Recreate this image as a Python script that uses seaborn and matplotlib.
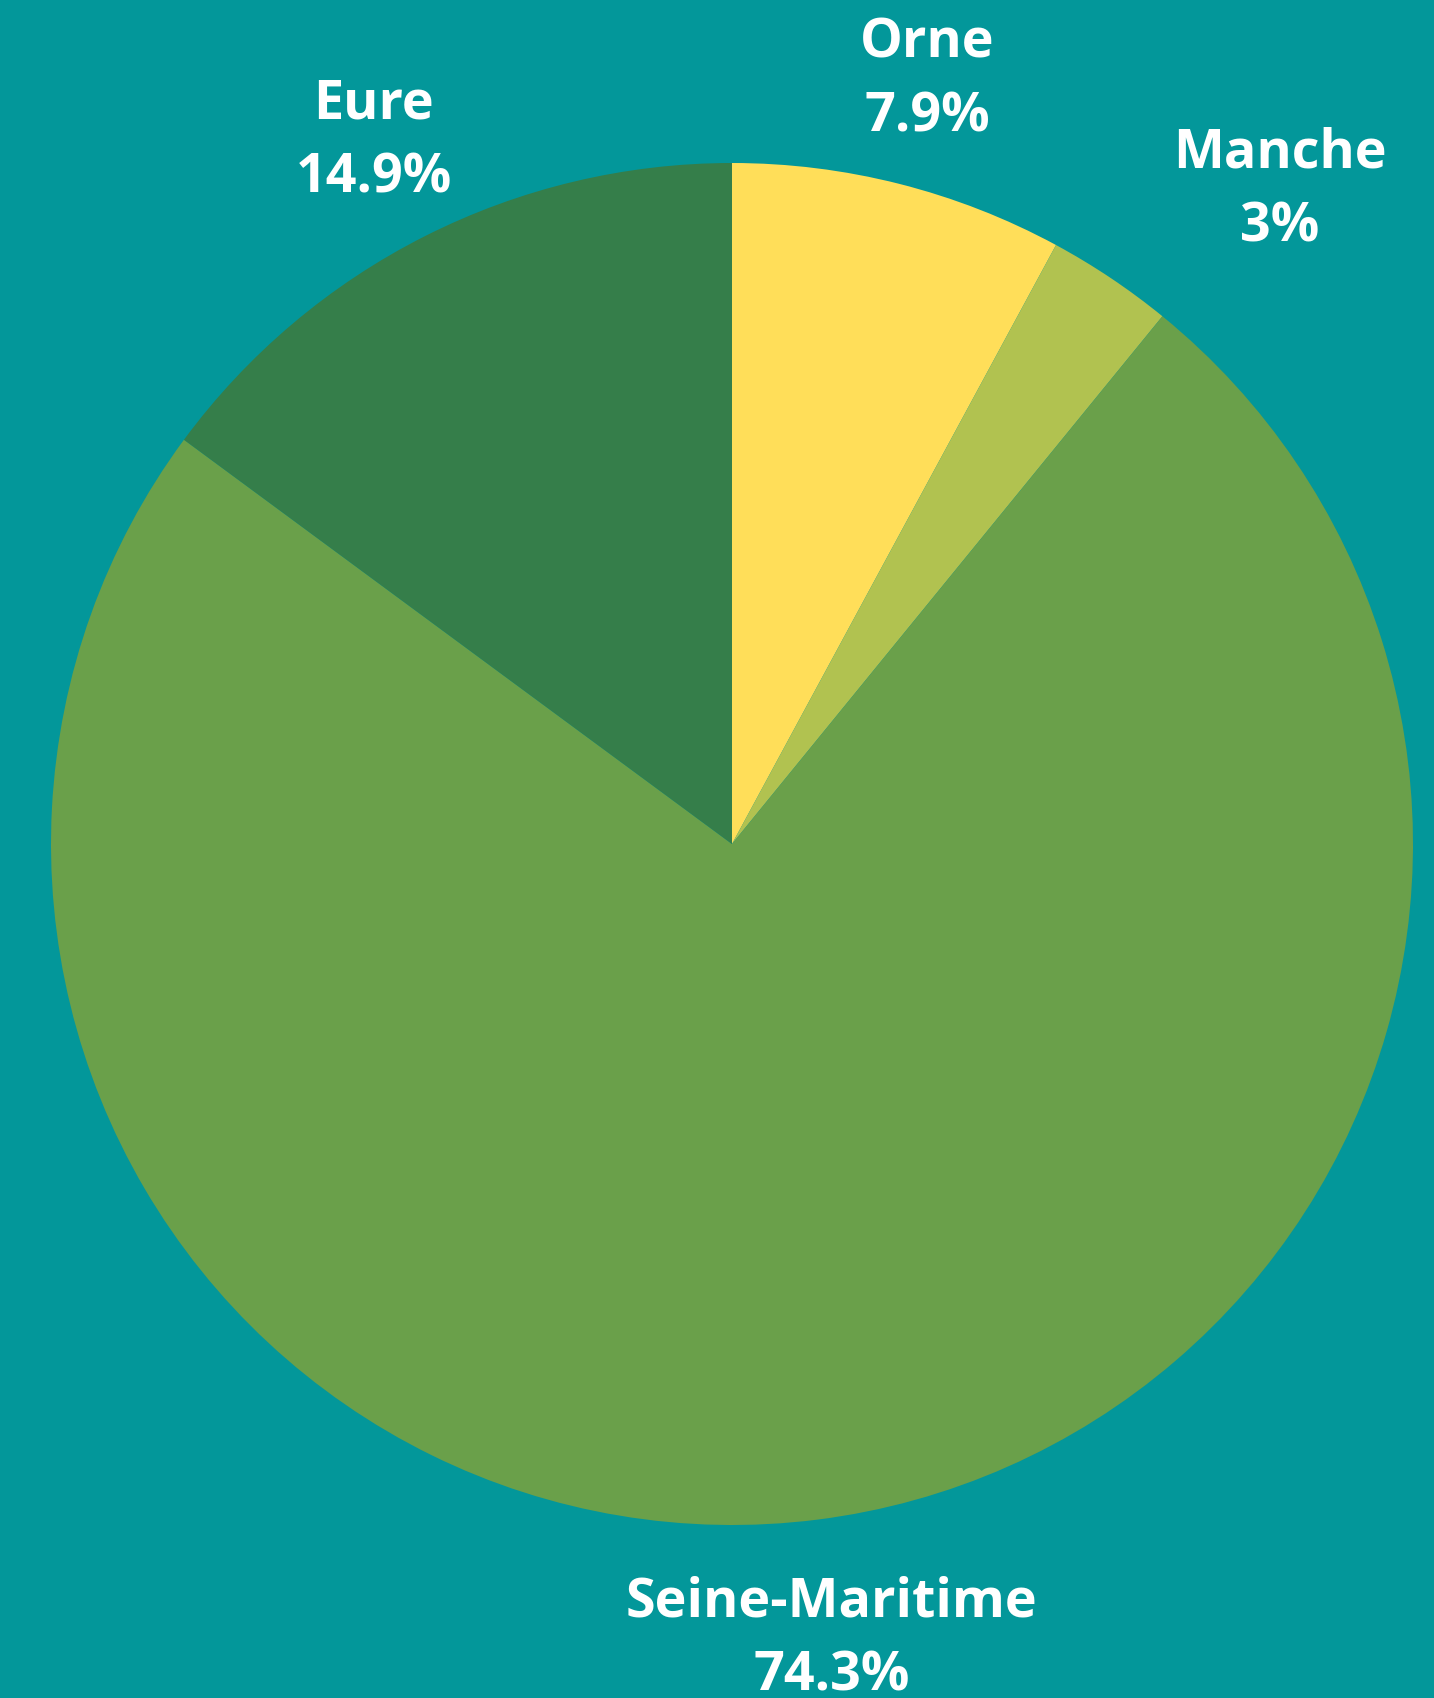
import matplotlib
matplotlib.use('AGG')
import matplotlib.pyplot as plt
import seaborn as sns
import numpy as np

# share of each departement, clockwise from 12 o'clock
departements = ["Orne", "Manche", "Seine-Maritime", "Eure"]
shares = [7.9, 3.0, 74.3, 14.9]
colors = ["#FFDE59", "#B1C250", "#6AA04A", "#357E4A"]
background = "#03979A"

# Manche label was nudged right in the original to clear Orne
label_nudge_x = {"Manche": 0.155}


def main():
    sns.set_style("white")
    plt.rcParams['font.family'] = ['Open Sans', 'DejaVu Sans']

    fig = plt.figure(figsize=(14.34, 16.99), dpi=100, facecolor=background)
    ax = fig.add_axes([0, 0, 1, 1])
    ax.set_facecolor(background)

    palette = sns.color_palette(colors)
    wedges, _ = ax.pie(shares, colors=palette, startangle=90, counterclock=False,
                       radius=1.0, center=(0, 0), wedgeprops=dict(linewidth=0))

    label_dist = 1.167
    for w, name, val in zip(wedges, departements, shares):
        mid = np.deg2rad((w.theta1 + w.theta2) / 2)
        x = label_dist * np.cos(mid) + label_nudge_x.get(name, 0)
        y = label_dist * np.sin(mid) - 0.009
        ax.text(x, y, f"{name}\n{val:g}%", ha="center", va="center",
                color="white", fontsize=38.8, fontweight="bold", linespacing=1.49)

    # pie centre sits at (732, 845) px with radius 681 px
    r_px = 681
    ax.set_xlim(-732 / r_px, (1434 - 732) / r_px)
    ax.set_ylim(-(1699 - 845) / r_px, 845 / r_px)
    ax.set_aspect('auto')
    ax.axis('off')

    fig.savefig("out.png", dpi=100, facecolor=background)


if __name__ == "__main__":
    main()
